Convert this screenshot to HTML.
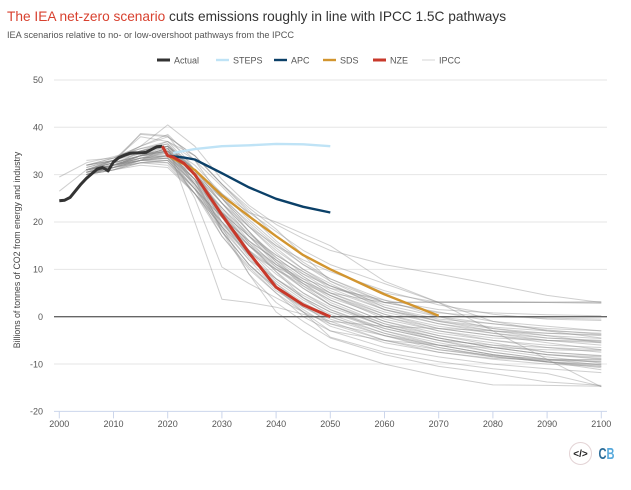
<!DOCTYPE html>
<html lang="en">
<head>
<meta charset="utf-8">
<title>IEA net-zero scenario vs IPCC pathways</title>
<style>
html,body{margin:0;padding:0;background:#fff;width:631px;height:490px;overflow:hidden}
svg{display:block;font-family:"Liberation Sans",sans-serif}
</style>
</head>
<body>
<svg id="chart" width="631" height="490" viewBox="0 0 631 490" xmlns="http://www.w3.org/2000/svg">
<rect width="631" height="490" fill="#fff"/>
<text x="7" y="21" font-size="13.7" fill="#333"><tspan fill="#d8412f">The IEA net-zero scenario</tspan> cuts emissions roughly in line with IPCC 1.5C pathways</text>
<text x="7" y="38" font-size="9.2" fill="#555">IEA scenarios relative to no- or low-overshoot pathways from the IPCC</text>
<text transform="translate(20,250) rotate(-90)" text-anchor="middle" font-size="8.8" fill="#444">Billions of tonnes of CO2 from energy and industry</text>
<g id="grid"></g>
<g id="ipcc"></g>
<g id="zero"></g>
<g id="scenarios"></g>
<g id="axes"></g>
<g id="legend"></g>
<g>
<circle cx="580.5" cy="453.5" r="11" fill="#fff" stroke="#e3d3d5" stroke-width="1"/>
<text x="580.5" y="457" text-anchor="middle" font-size="10" font-weight="bold" fill="#222">&lt;/&gt;</text>
</g>
<text x="598.5" y="459" font-size="16" font-weight="bold" textLength="16" lengthAdjust="spacingAndGlyphs"><tspan fill="#2a6c99">C</tspan><tspan fill="#57a9dc">B</tspan></text>
</svg>
<script>
var pathwayYears = [2000,2005,2010,2015,2020,2025,2030,2035,2040,2045,2050,2060,2070,2080,2090,2100];
var ipccPathways = [
[29.5,32.5,33.8,35.5,36.5,31,24,19,15,12,9.5,5.5,2.5,0.5,-0.5,-0.8],
[26.5,31,33,38.5,38,34,28,22.5,17,13,10,5,3,3,3,3.2],
[null,33,33.5,36,40.5,36,29,23.5,19.5,16.5,14,11,9,6.8,4.5,3],
[null,32,33,38,37,34,28,22,20,17.5,15,7.5,3,-3,-9,-14.8],
[null,31,32.5,38.7,38.2,31,25,20,15,11,8,3,3.2,3.2,3.1,3],
[null,30.5,33,36,38.5,33,25,18,11.5,7.5,5,3,3,3,3,2.8],
[null,31,32,33,36,20,3.7,3,2,0.5,-1,-2,-2.5,-3,-3.5,-3.8],
[null,31,32,33,35,25,10.5,7,4,1,-3,-5,-6,-6.5,-7,-7.2],
[null,30.5,32,35,36,31,18,11,6,1,-4.3,-7.5,-9.5,-11,-12,-14.7],
[null,30,31.5,34,35,29,19,9,1,-3,-6.5,-10,-12.5,-14.4,-14.5,-14.7],
[null,31,32.5,34,35,29,18,9,3,-1,-4.5,-8,-10.5,-12,-13.8,-14.5],
[null,30,31,33,34,27,17,10,5,0,-3,-6.5,-8.5,-10,-11,-11.8],
[null,31,33,35,36.5,30,21,13,7,3,0,-3.5,-6,-8,-9.5,-10.5],
[null,32,33,35,37,31,22,14,8,4,1,-3,-5.5,-7.5,-9,-10.2],
[null,30,32,34,35.5,30,22,15,9.5,5,1.5,-2.5,-5,-7,-8.5,-9.8],
[null,31,32,33.5,34,28,20,13,7.5,3.5,0.5,-3.5,-6.5,-8.5,-9.5,-10],
[null,30.5,31.5,33,33.5,26,19,13,8,4,1,-2.5,-5,-7.5,-9,-9.5],
[null,30,31,32.5,33,27,20,14,9,5,2,-2,-4.5,-6.5,-8,-8.5],
[null,31,32.5,34,35.5,30,23,16,10.5,6,2.5,-1.5,-4,-6,-7.5,-8.3],
[null,32,33,35,36,31,24,17,11,7,3.5,-1,-4,-5.5,-7.5,-8.2],
[null,30,32,34,34.5,29,21,15,10,6.5,3.5,-1,-3.5,-5,-6,-6.5],
[null,31,32,33.5,34,28.5,22,15.5,11,7.5,4,0,-2.5,-4,-5,-5.5],
[null,30.5,31.5,33,33,27,21,15,10.5,7.5,4.5,0,-3,-4.5,-5,-5.2],
[null,30,31.5,33,32.5,26,19,13.5,10,7,4.5,0.5,-2,-3.5,-4.5,-5],
[null,31,32.5,34,35,30,24,18,12.5,8.5,5,1,-1.5,-3,-4,-4.6],
[null,31.5,33,35,36,31,25,19,13.5,9,5.5,1.5,-1,-2.5,-3.5,-4],
[null,30,32,34,34,29,23,17.5,13,9.5,6,1.5,-0.8,-2.2,-3,-3.5],
[null,31,32,33,33.5,28,22,17,13,9.5,6.5,2,-0.5,-1.5,-2.5,-3],
[null,30.5,31.5,32.5,32.5,27,21,16,12,9,6.5,3,0.8,0,-0.3,-0.5],
[null,30,31,32.5,32,26,20,15,11,8,6,3.5,1.5,0.8,0.4,0.2],
[null,31,32.5,34,35.5,31,26,20.5,15.5,11,7.5,3,1,-1,-2,-3],
[null,32,33.5,35.5,37,33,27.5,21.5,16,11.5,8,3.5,0,-2.5,-4,-5.5],
[null,31,32,33.5,34,30,25,19,14,10,7,1.5,-1.5,-3.5,-5,-6],
[null,30.5,32,34,35,30,24,18,12,7,3,-1.5,-4.5,-6.5,-8,-9],
[null,31,33,35,36,30,22.5,15.5,9.5,4,0,-4,-7,-8.5,-9.5,-10.8],
[null,30,31.5,33,33.5,27,19,12,6,1.5,-2,-5.5,-7.5,-9,-10,-10.5],
[null,30.5,32,33.5,34.5,27.5,18,11,5.5,2,-1,-5,-7.5,-8.8,-9.2,-9.5],
[null,31,32.5,34.5,36,30.5,20,12.5,7,2.5,-1.5,-5,-7,-8.2,-9,-9.2],
[null,30,32,34,35.5,28,18.5,12,8,4.5,1.5,-3,-6,-8,-9.2,-9],
[null,30.5,31.5,32.5,33,26,17,10.5,5,1,-1.5,-4,-6,-8,-9.5,-11.2],
[null,31.5,33,34.5,35,28,19.5,14,10,6,2.5,-2,-5,-6,-6.5,-7],
[null,31,32,33.5,33.5,28,21,16,12,8,4.5,-0.5,-3,-5,-6.5,-7.5],
[null,30,31.5,33.5,35,29,22,17,12.5,8.5,5,0.5,-2.5,-4,-5.5,-7],
[null,31,32.5,34,36,32,26,22,18,14,11,7,3,-1,-3,-4.5],
[null,32,33.5,36,38,34,28,23,18.5,13,7.5,2,-1,-3,-4.5,-5.2],
[null,30.5,32,34,35,31,25.5,19.5,14.5,10,6.5,2.5,0,-1.5,-2.8,-3.7],
[null,31,32,33,34,29,23,17,11.5,6.5,2.5,-2,-4.5,-6.5,-8,-8.8],
[null,30,31,32,31.5,26,18,11,6,2,-0.5,-4,-6.5,-8.3,-9.6,-10.2]
];
var actualYears = [2000,2001,2002,2003,2004,2005,2006,2007,2008,2009,2010,2011,2012,2013,2014,2015,2016,2017,2018,2019];
var actualValues = [24.5,24.6,25.2,26.6,28,29.2,30.2,31.2,31.5,30.8,32.7,33.6,34.1,34.5,34.6,34.6,34.7,35.3,35.9,36];
var stepsYears = [2021,2023,2025,2030,2035,2040,2045,2050];
var stepsValues = [34.6,35,35.4,36,36.2,36.5,36.4,36];
var apcYears = [2020,2023,2025,2030,2035,2040,2045,2050];
var apcValues = [34,33.6,33.2,30.3,27.3,24.9,23.2,22];
var sdsYears = [2020,2025,2030,2035,2040,2045,2050,2060,2070];
var sdsValues = [34,31,25.6,21.2,17,13,10,4.7,0.2];
var nzeYears = [2019,2020,2021,2023,2025,2030,2035,2040,2045,2050];
var nzeValues = [36,34,33.7,32.4,30,21.5,13.5,6.2,2.5,0];
var xTicks = [2000,2010,2020,2030,2040,2050,2060,2070,2080,2090,2100];
var yTicks = [50,40,30,20,10,0,-10,-20];
var legendLabels = ["Actual","STEPS","APC","SDS","NZE","IPCC"];

var NS = "http://www.w3.org/2000/svg";
function xScale(year){ return 59.3 + (year - 2000) * 5.42; }
function yScale(v){ return 316.7 - v * 4.735; }
function make(tag, attrs, parent){
  var el = document.createElementNS(NS, tag);
  for (var k in attrs) el.setAttribute(k, attrs[k]);
  parent.appendChild(el);
  return el;
}
function pathFor(years, values){
  var d = "", started = false;
  for (var i = 0; i < years.length; i++){
    if (values[i] === null) continue;
    d += (started ? "L" : "M") + xScale(years[i]).toFixed(1) + " " + yScale(values[i]).toFixed(1);
    started = true;
  }
  return d;
}
var gridG = document.getElementById("grid");
var axesG = document.getElementById("axes");
yTicks.forEach(function(t){
  if (t !== 0 && t !== -20){
    var g = make("line", {x1:54, x2:607, y1:yScale(t), y2:yScale(t), stroke:"#e6e6e6", "stroke-width":1}, gridG);
    
    
  }
  var lab = make("text", {x:43, y:yScale(t)+3.2, "text-anchor":"end", "font-size":9, fill:"#555"}, axesG);
  
  
  lab.textContent = t;
});
var base = make("line", {x1:54, x2:607, y1:yScale(-20), y2:yScale(-20), stroke:"#ccd6eb", "stroke-width":1}, axesG);


xTicks.forEach(function(t){
  var tk = make("line", {x1:xScale(t), x2:xScale(t), y1:yScale(-20), y2:yScale(-20)+7, stroke:"#ccd6eb", "stroke-width":1}, axesG);
  
  
  var lab = make("text", {x:xScale(t), y:427, "text-anchor":"middle", "font-size":9, fill:"#555"}, axesG);
  
  
  lab.textContent = t;
});
var ipccG = document.getElementById("ipcc");
ipccPathways.forEach(function(values){
  var p = make("path", {d:pathFor(pathwayYears, values), fill:"none", stroke:"#8c8c8c", "stroke-opacity":0.42, "stroke-width":1, "stroke-linejoin":"round"}, ipccG);
  
  
});
var zl = make("line", {x1:54, x2:607, y1:yScale(0), y2:yScale(0), stroke:"#666", "stroke-width":1.4}, document.getElementById("zero"));


var scenG = document.getElementById("scenarios");
var stepsLine = make("path", {d:pathFor(stepsYears, stepsValues), fill:"none", stroke:"#bfe3f6", "stroke-width":2.4, "stroke-linejoin":"round"}, scenG);


var apcLine = make("path", {d:pathFor(apcYears, apcValues), fill:"none", stroke:"#0b4068", "stroke-width":2.4, "stroke-linejoin":"round"}, scenG);


var sdsLine = make("path", {d:pathFor(sdsYears, sdsValues), fill:"none", stroke:"#d2952f", "stroke-width":2.4, "stroke-linejoin":"round"}, scenG);


var actualLine = make("path", {d:pathFor(actualYears, actualValues), fill:"none", stroke:"#333", "stroke-width":3, "stroke-linejoin":"round"}, scenG);


var nzeLine = make("path", {d:pathFor(nzeYears, nzeValues), fill:"none", stroke:"#c8392b", "stroke-width":3, "stroke-linejoin":"round"}, scenG);



var legendG = document.getElementById("legend");
var legendSwatchX = [157,216,274,323,373,422];
var legendColors = ["#333","#bfe3f6","#0b4068","#d2952f","#c8392b","#d4d4d4"];
var legendWeights = [3,2.4,2.4,2.4,3,1];
legendLabels.forEach(function(label, i){
  var s = make("line", {x1:legendSwatchX[i], x2:legendSwatchX[i]+13, y1:60, y2:60, stroke:legendColors[i], "stroke-width":legendWeights[i]}, legendG);
  
  
  var t = make("text", {x:legendSwatchX[i]+17, y:63.5, "font-size":9, fill:"#555"}, legendG);
  
  
  t.textContent = label;
});
</script>
</body>
</html>
